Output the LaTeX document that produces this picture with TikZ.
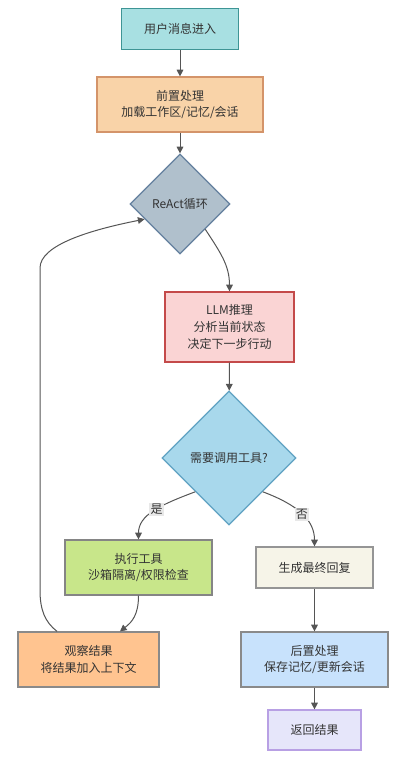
\documentclass[tikz,border=0pt]{standalone}
\usepackage{fontspec}
\setmainfont{Noto Sans CJK SC}
\usetikzlibrary{arrows.meta,shapes.geometric,calc}
\definecolor{txt}{HTML}{333333}
\definecolor{edge}{HTML}{555555}
\definecolor{cStartF}{HTML}{A8E0E2}\definecolor{cStartD}{HTML}{3E9595}
\definecolor{cPreF}{HTML}{F9D3A8}\definecolor{cPreD}{HTML}{D4946A}
\definecolor{cReF}{HTML}{B0C0CC}\definecolor{cReD}{HTML}{64809E}
\definecolor{cLlmF}{HTML}{FAD4D4}\definecolor{cLlmD}{HTML}{C44A4A}
\definecolor{cDecF}{HTML}{A8D8EC}\definecolor{cDecD}{HTML}{60A2C2}
\definecolor{cExF}{HTML}{C8E68A}\definecolor{cExD}{HTML}{858585}
\definecolor{cGenF}{HTML}{F6F4E8}\definecolor{cGenD}{HTML}{959595}
\definecolor{cObsF}{HTML}{FFC490}\definecolor{cObsD}{HTML}{8A8A8A}
\definecolor{cPostF}{HTML}{C8E2FC}\definecolor{cPostD}{HTML}{8A8A8A}
\definecolor{cRetF}{HTML}{E6E6FA}\definecolor{cRetD}{HTML}{B8A0E4}
\tikzset{
  box/.style={draw, line width=0.9pt, inner sep=0pt, align=center, text=txt,
    font=\fontsize{9pt}{12.5pt}\selectfont},
  dia/.style={diamond, draw, line width=0.9pt, inner sep=0pt, align=center, text=txt,
    font=\fontsize{9pt}{12.5pt}\selectfont},
  conn/.style={draw=edge, line width=0.75pt, -{Triangle[length=5pt,width=5pt]}},
  lbl/.style={fill=black!9, inner sep=1pt, text=txt, font=\fontsize{9pt}{11pt}\selectfont}
}
\begin{document}
\begin{tikzpicture}[x=0.75pt,y=-0.75pt]
\useasboundingbox (0,0) rectangle (401,761);
\node[box, fill=cStartF, draw=cStartD, minimum width=87.75pt, minimum height=30.75pt] (start) at (180,29) {用户消息进入};
\node[box, fill=cPreF, draw=cPreD, minimum width=124.5pt, minimum height=41.25pt] (pre) at (180,104.5) {前置处理\\加载工作区/记忆/会话};
\node[dia, fill=cReF, draw=cReD, minimum width=75pt, minimum height=75pt] (react) at (180,204) {ReAct循环};
\node[box, fill=cLlmF, draw=cLlmD, minimum width=96.75pt, minimum height=52.5pt] (llm) at (229.5,327) {LLM推理\\分析当前状态\\决定下一步行动};
\node[dia, fill=cDecF, draw=cDecD, minimum width=100.5pt, minimum height=100.5pt] (dec) at (229,458) {需要调用工具?};
\node[box, fill=cExF, draw=cExD, minimum width=110.25pt, minimum height=41.25pt] (exec) at (138.5,567.5) {执行工具\\沙箱隔离/权限检查};
\node[box, fill=cGenF, draw=cGenD, minimum width=87.75pt, minimum height=30.75pt] (gen) at (314.5,567.5) {生成最终回复};
\node[box, fill=cObsF, draw=cObsD, minimum width=105.75pt, minimum height=41.25pt] (obs) at (88.5,659.5) {观察结果\\将结果加入上下文};
\node[box, fill=cPostF, draw=cPostD, minimum width=110.25pt, minimum height=41.25pt] (post) at (314.5,659.5) {后置处理\\保存记忆/更新会话};
\node[box, fill=cRetF, draw=cRetD, minimum width=69.75pt, minimum height=30pt] (ret) at (314.5,730) {返回结果};

\draw[conn] (start) -- (pre);
\draw[conn] (pre) -- (react);
\draw[conn] (react.south east) .. controls (220,252) and (229.5,265) .. (llm.north);
\draw[conn] (llm) -- (dec);
\draw[conn] (dec.south west) .. controls (160,505) and (138.5,515) .. node[lbl, pos=0.45] {是} (exec.north);
\draw[conn] (dec.south east) .. controls (298,505) and (314.5,520) .. node[lbl, pos=0.5] {否} (gen.north);
\draw[conn] (exec.south) .. controls (138.5,615) and (132,622) .. ([xshift=23.6pt]obs.north);
\coordinate (ltop) at (40,268);
\coordinate (lbot) at (40,590);
\draw[conn] ([xshift=-23.6pt]obs.north) .. controls (45,622) and (40,610) .. (lbot) -- (ltop) .. controls (40,245) and (90,230) .. ($(react.west)!0.3!(react.south)$);
\draw[conn] (gen) -- (post);
\draw[conn] (post) -- (ret);
\end{tikzpicture}
\end{document}
